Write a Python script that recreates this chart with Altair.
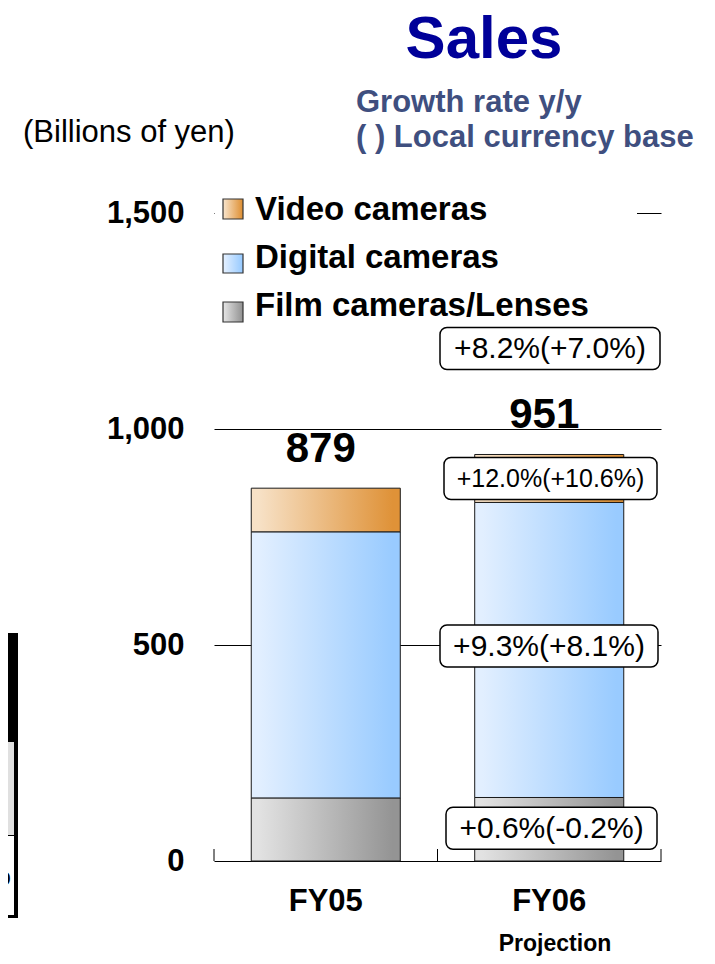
import altair as alt
import pandas as pd

# ---------------- data ----------------
categories = ["FY05", "FY06"]
segments = ["Film cameras/Lenses", "Digital cameras", "Video cameras"]
film = [146, 147]
digital = [616, 683]
video = [101, 111]
total_labels = ["879", "951"]
growth_total = "+8.2%(+7.0%)"
growth_video = "+12.0%(+10.6%)"
growth_digital = "+9.3%(+8.1%)"
growth_film = "+0.6%(-0.2%)"
y_ticks = [0, 500, 1000, 1500]

FONT = "Liberation Sans"
W, H = 447, 648

rows = []
for i, c in enumerate(categories):
    s = 0
    for name, vals in zip(segments, [film, digital, video]):
        rows.append({"cat": c, "seg": name, "start": s, "end": s + vals[i]})
        s += vals[i]
df = pd.DataFrame(rows)

tot_df = pd.DataFrame({
    "cat": categories,
    "total": [film[i] + digital[i] + video[i] for i in range(len(categories))],
    "label": total_labels,
})


def grad(c0, c1):
    return alt.Gradient(
        gradient="linear",
        stops=[alt.GradientStop(color=c0, offset=0.05),
               alt.GradientStop(color=c1, offset=0.95)],
        x1=0, x2=1, y1=0, y2=0,
    )


fills = {
    "Film cameras/Lenses": grad("#E2E2E2", "#949494"),
    "Digital cameras": grad("#E2EFFF", "#99CBFF"),
    "Video cameras": grad("#F7E1C6", "#DF9238"),
}

yscale = alt.Scale(domain=[0, 1500], nice=False, zero=True)
yaxis = alt.Axis(values=y_ticks, format=",d", grid=True, gridColor="black",
                 gridOpacity=1, gridWidth=1, domain=False, ticks=False,
                 labelFontSize=31, labelFontWeight="bold", labelFont=FONT,
                 labelColor="black", labelPadding=30, title=None)


def Y(field):
    return alt.Y(field, scale=yscale, axis=yaxis)


x_enc = alt.X("cat:N", sort=categories,
              scale=alt.Scale(domain=categories, paddingInner=0.333, paddingOuter=0.1667),
              axis=alt.Axis(labelAngle=0, domain=False, ticks=False, grid=False,
                            labelFontSize=31, labelFontWeight="bold", labelFont=FONT,
                            labelColor="black", labelPadding=25, title=None))

one = pd.DataFrame({"k": [0]})
layers = []

# bars
for name in segments:
    layers.append(
        alt.Chart(df).transform_filter(alt.datum.seg == name)
        .mark_bar(fill=fills[name], stroke="#1a1a1a", strokeWidth=1)
        .encode(x=x_enc, y=Y("start:Q"), y2="end:Q")
    )

# total labels
layers.append(
    alt.Chart(tot_df).mark_text(baseline="alphabetic", dy=-26, dx=-5, fontSize=42,
                                fontWeight="bold", font=FONT, color="black")
    .encode(x=x_enc, y=Y("total:Q"), text="label:N")
)

# growth annotations (FY06)
f6, d6, v6 = film[1], digital[1], video[1]
annots = [
    (growth_total, f6 + d6 + v6, -106, 30, 226, 446),
    (growth_video, f6 + d6 + v6, 24, 25, 230, 443),
    (growth_digital, f6 + d6 / 2, -4, 30, 226, 444),
    (growth_film, f6 / 2, -1, 30, 232, 443),
]
for text, anchor, off, fs, xl, xr in annots:
    adf = pd.DataFrame({"v": [anchor], "t": [text]})
    layers.append(
        alt.Chart(adf).mark_rect(fill="white", stroke="black", strokeWidth=1.5,
                                 cornerRadius=7, yOffset=off - 21, y2Offset=off + 21)
        .encode(x=alt.value(xl), x2=alt.value(xr), y=Y("v:Q"), y2="v:Q")
    )
    layers.append(
        alt.Chart(adf).mark_text(align="center", baseline="middle", dy=off + 1,
                                 fontSize=fs, font=FONT, color="black")
        .encode(x=alt.value((xl + xr) / 2), y=Y("v:Q"), text="t:N")
    )

# x-axis band ticks (pointing up)
for xv in [0, W / 2, W]:
    layers.append(
        alt.Chart(one).mark_rule(color="black", strokeWidth=1)
        .encode(x=alt.value(xv), y=alt.value(H - 12), y2=alt.value(H))
    )

# legend background (hides 1,500 grid line behind legend)
layers.append(
    alt.Chart(one).mark_rect(fill="white")
    .encode(x=alt.value(1), x2=alt.value(423), y=alt.value(-10), y2=alt.value(10))
)

# legend
leg_y = [(-14, 6, 7), (41, 60, 55), (89, 109, 103)]
for name, (s0, s1, base) in zip(["Video cameras", "Digital cameras", "Film cameras/Lenses"], leg_y):
    layers.append(
        alt.Chart(one).mark_rect(fill=fills[name], stroke="#333333", strokeWidth=1.2)
        .encode(x=alt.value(9), x2=alt.value(29), y=alt.value(s0), y2=alt.value(s1))
    )
    layers.append(
        alt.Chart(one).mark_text(align="left", baseline="alphabetic", fontSize=33,
                                 fontWeight="bold", font=FONT, color="black")
        .encode(x=alt.value(41), y=alt.value(base), text=alt.value(name))
    )

# titles and notes
texts = [
    ("Sales", 270, -155, "center", 60, "bold", "#000099"),
    ("Growth rate y/y", 142, -101, "left", 31, "bold", "#3F4F7F"),
    ("( ) Local currency base", 142, -66, "left", 31, "bold", "#3F4F7F"),
    ("(Billions of yen)", -191, -71, "left", 31, "normal", "black"),
    ("Projection", 341, 738, "center", 23, "bold", "black"),
]
for t, xv, yv, al, fs, fw, col in texts:
    layers.append(
        alt.Chart(one).mark_text(align=al, baseline="alphabetic", fontSize=fs,
                                 fontWeight=fw, font=FONT, color=col)
        .encode(x=alt.value(xv), y=alt.value(yv), text=alt.value(t))
    )

# partial neighbouring table at the left edge
layers.append(
    alt.Chart(one).mark_rect(fill="black")
    .encode(x=alt.value(-206), x2=alt.value(-196), y=alt.value(420), y2=alt.value(705))
)
layers.append(
    alt.Chart(one).mark_rect(fill="#E0E0E0")
    .encode(x=alt.value(-206), x2=alt.value(-200), y=alt.value(529), y2=alt.value(622))
)
layers.append(
    alt.Chart(one).mark_rect(fill="white")
    .encode(x=alt.value(-206), x2=alt.value(-200), y=alt.value(623), y2=alt.value(702))
)
layers.append(
    alt.Chart(one).mark_text(align="right", baseline="alphabetic", fontSize=30,
                             font=FONT, color="black")
    .encode(x=alt.value(-203), y=alt.value(672), text=alt.value("%"))
)

chart = (
    alt.layer(*layers)
    .properties(width=W, height=H, autosize="none",
                padding={"left": 206, "top": 205, "right": 46, "bottom": 95},
                background="white")
    .configure_view(stroke=None)
)

chart.save("out.html", embed_options={"renderer": "svg", "actions": False})
